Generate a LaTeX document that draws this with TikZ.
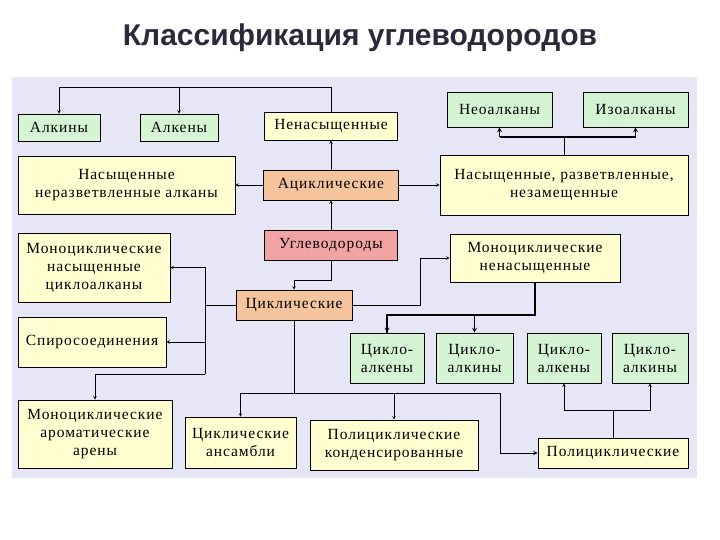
\documentclass[tikz,border=0pt]{standalone}
\usepackage{fontspec}
\setmainfont{Liberation Serif}[LetterSpace=6]
\newfontfamily\titlefont{Liberation Sans}
\usepackage{tikz}
\usetikzlibrary{arrows, positioning, calc}
\definecolor{bgpanel}{HTML}{E6E6F6}
\definecolor{boxgreen}{HTML}{D4F4D4}
\definecolor{boxyellow}{HTML}{FFFFD2}
\definecolor{boxorange}{HTML}{F6C49C}
\definecolor{boxred}{HTML}{F2A4A4}
\definecolor{titlegray}{HTML}{2A2A3A}
\tikzstyle{box} = [rectangle, draw=black, line width=0.6pt, text centered, align=center, inner sep=1pt, font=\fontsize{15.5}{18}\selectfont]
\tikzstyle{green} = [box, fill=boxgreen]
\tikzstyle{yellow} = [box, fill=boxyellow]
\tikzstyle{arrow} = [->,>=stealth, line width=0.6pt]

\begin{document}
\begin{tikzpicture}[x=1pt, y=-1pt]
    \useasboundingbox (0,0) rectangle (720,540);
    \node at (360,38) [font=\titlefont\bfseries\fontsize{30}{32}\selectfont, text=titlegray] {Классификация углеводородов};
    \fill[bgpanel] (12,77) rectangle (697,478);

    % Acyclic part
    \node (alkiny) at (59,127.5) [green, minimum width=82, minimum height=27] {Алкины};
    \node (alkeny) at (179,127.5) [green, minimum width=78, minimum height=27] {Алкены};
    \node (nenas) at (331,126) [yellow, minimum width=133, minimum height=28] {Ненасыщенные};
    \node (neo) at (499.5,109.5) [green, minimum width=105, minimum height=35] {Неоалканы};
    \node (izo) at (635.5,109.5) [green, minimum width=105, minimum height=35] {Изоалканы};
    \node (nasner) at (126.5,185) [yellow, minimum width=217, minimum height=58] {Насыщенные\\неразветвленные алканы};
    \node (acikl) at (331,185) [box, fill=boxorange, minimum width=135, minimum height=30] {Ациклические};
    \node (nasrazv) at (564,185) [yellow, minimum width=248, minimum height=60] {Насыщенные, разветвленные,\\незамещенные};
    \node (uglev) at (331,245) [box, fill=boxred, minimum width=133, minimum height=30] {Углеводороды};

    % Cyclic part
    \node (mcnas) at (94,267.5) [yellow, minimum width=152, minimum height=69] {Моноциклические\\насыщенные\\циклоалканы};
    \node (mcnenas) at (535,258) [yellow, minimum width=170, minimum height=48] {Моноциклические\\ненасыщенные};
    \node (cikl) at (294,305) [box, fill=boxorange, minimum width=116, minimum height=30] {Циклические};
    \node (spiro) at (92,342) [yellow, minimum width=148, minimum height=50] {Спиросоединения};
    \node (calkeny) at (387,358) [green, minimum width=74, minimum height=50] {Цикло-\\алкены};
    \node (calkiny) at (474.5,358) [green, minimum width=77, minimum height=50] {Цикло-\\алкины};
    \node (palkeny) at (564,358) [green, minimum width=74, minimum height=50] {Цикло-\\алкены};
    \node (palkiny) at (650,358) [green, minimum width=76, minimum height=50] {Цикло-\\алкины};
    \node (areny) at (95,434) [yellow, minimum width=154, minimum height=68] {Моноциклические\\ароматические\\арены};
    \node (ansam) at (240.5,442.5) [yellow, minimum width=111, minimum height=51] {Циклические\\ансамбли};
    \node (kond) at (394,445) [yellow, minimum width=168, minimum height=50] {Полициклические\\конденсированные};
    \node (polic) at (613,453) [yellow, minimum width=150, minimum height=30] {Полициклические};

    % Connectors, acyclic
    \coordinate (top) at (0,87);
    \draw [arrow] (nenas.north) |- (top -| alkiny.north) -- (alkiny.north);
    \draw [arrow] (top -| alkeny.north) -- (alkeny.north);
    \draw [arrow] (acikl.north) -- (nenas.south);
    \draw [arrow] (acikl.west) -- (nasner.east);
    \draw [arrow] (acikl.east) -- (nasrazv.west);
    \coordinate (razv) at (0,137);
    \draw (nasrazv.north) -- (nasrazv.north |- razv);
    \draw [arrow, line width=1.2pt] (razv -| neo.south) -- (neo.south);
    \draw [arrow, line width=1.2pt] (razv -| izo.south) -- (izo.south);
    \draw [line width=1.2pt] (razv -| neo.south) -- (razv -| izo.south);
    \draw [arrow] (uglev.north) -- (acikl.south);
    \draw [arrow] (uglev.south) -- ++(0,20) -| (cikl.north);

    % Connectors, cyclic
    \coordinate (lft) at (205,0);
    \draw (cikl.west) -- (cikl.west -| lft);
    \draw [arrow] (lft |- 0,374) -- (lft |- mcnas.east) -- (mcnas.east);
    \draw [arrow] (lft |- spiro.east) -- (spiro.east);
    \draw [arrow] (lft |- 0,374) -| (areny.north);
    \draw [arrow] (cikl.east) -- (420,305) |- (mcnenas.west);
    \draw [line width=1.2pt] (mcnenas.south) |- (calkeny.north |- 0,315) -- (calkeny.north);
    \draw [arrow, line width=1.2pt] (calkeny.north |- 0,315) -- (calkeny.north);
    \draw [arrow, line width=1.2pt] (calkiny.north |- 0,315) -- (calkiny.north);
    \draw (cikl.south) -- (cikl.south |- 0,393);
    \draw [arrow] (cikl.south |- 0,393) -| (ansam.north);
    \draw [arrow] (kond.north |- 0,393) -- (kond.north);
    \draw [arrow, line width=1pt] (cikl.south |- 0,393) -- (500,393) |- (polic.west);
    \draw [arrow] (polic.north) |- (0,410 -| palkeny.south) -- (palkeny.south);
    \draw [arrow] (polic.north) |- (palkiny.south |- 0,410) -- (palkiny.south);
\end{tikzpicture}
\end{document}
